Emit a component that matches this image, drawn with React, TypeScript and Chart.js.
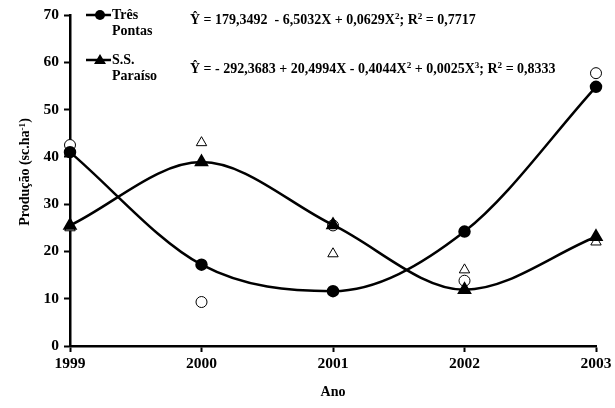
import React, { useEffect, useRef } from "react";
import { Chart, registerables } from "chart.js";

Chart.register(...registerables);

const years = ["1999", "2000", "2001", "2002", "2003"];
const tresPontasFit = [41.0, 17.2, 11.6, 24.2, 54.8];
const paraisoFit = [25.5, 38.9, 25.6, 11.9, 23.1];
const tresPontasObs = [42.5, 9.3, 25.5, 13.8, 57.7];
const paraisoObs = [25.0, 43.0, 19.5, 16.1, 22.0];
const yMin = 0;
const yMax = 70;
const yStep = 10;

const SERIF = "'Liberation Serif', 'Times New Roman', serif";

export default function App() {
  const canvasRef = useRef<HTMLCanvasElement | null>(null);

  useEffect(() => {
    const canvas = canvasRef.current;
    if (!canvas) return;
    const chart = new Chart(canvas, {
      type: "line",
      data: {
        labels: years,
        datasets: [
          {
            label: "Três Pontas",
            data: tresPontasFit,
            borderColor: "#000",
            backgroundColor: "#000",
            borderWidth: 2.5,
            pointStyle: "circle",
            pointRadius: 5,
            pointBackgroundColor: "#000",
            pointBorderColor: "#000",
            cubicInterpolationMode: "monotone",
            clip: false,
          },
          {
            label: "S.S. Paraíso",
            data: paraisoFit,
            borderColor: "#000",
            backgroundColor: "#000",
            borderWidth: 2.5,
            pointStyle: "triangle",
            pointRadius: 6,
            pointBackgroundColor: "#000",
            pointBorderColor: "#000",
            cubicInterpolationMode: "monotone",
            clip: false,
          },
          {
            label: "Três Pontas obs",
            data: tresPontasObs,
            showLine: false,
            pointStyle: "circle",
            pointRadius: 5.5,
            pointBorderWidth: 1,
            pointBackgroundColor: "#fff",
            pointBorderColor: "#000",
            clip: false,
          },
          {
            label: "S.S. Paraíso obs",
            data: paraisoObs,
            showLine: false,
            pointStyle: "triangle",
            pointRadius: 6,
            pointBorderWidth: 1,
            pointBackgroundColor: "#fff",
            pointBorderColor: "#000",
            clip: false,
          },
        ],
      },
      options: {
        responsive: false,
        animation: false,
        events: [],
        layout: { padding: { left: 0, right: 19, top: 15, bottom: 0 } },
        plugins: {
          legend: { display: false },
          tooltip: { enabled: false },
          title: { display: false },
        },
        scales: {
          x: {
            type: "category",
            offset: false,
            afterFit: (s: any) => {
              s.height = 62;
            },
            grid: {
              drawOnChartArea: false,
              drawTicks: true,
              tickLength: 6,
              tickWidth: 2,
              tickColor: "#000",
              color: "#000",
            },
            border: { display: true, color: "#000", width: 2.5 },
            ticks: {
              color: "#000",
              padding: 3,
              maxRotation: 0,
              font: { family: SERIF, size: 15.5, weight: "bold" },
            },
          },
          y: {
            min: yMin,
            max: yMax,
            afterFit: (s: any) => {
              s.width = 70;
            },
            grid: {
              drawOnChartArea: false,
              drawTicks: true,
              tickLength: 6,
              tickWidth: 2,
              tickColor: "#000",
              color: "#000",
            },
            border: { display: true, color: "#000", width: 2.5 },
            ticks: {
              stepSize: yStep,
              color: "#000",
              padding: 5,
              font: { family: SERIF, size: 15.5, weight: "bold" },
            },
          },
        },
      },
    });
    return () => chart.destroy();
  }, []);

  const txt: React.CSSProperties = {
    position: "absolute",
    fontFamily: SERIF,
    fontWeight: "bold",
    color: "#000",
    whiteSpace: "nowrap",
    lineHeight: 1,
  };
  const sup: React.CSSProperties = { fontSize: "0.65em", verticalAlign: "0.5em" };

  return (
    <div
      style={{
        position: "fixed",
        left: 0,
        top: 0,
        width: 615,
        height: 408,
        background: "#fff",
      }}
    >
      <canvas ref={canvasRef} width={615} height={408} style={{ position: "absolute", left: 0, top: 0 }} />

      {/* legend markers */}
      <svg width={615} height={408} style={{ position: "absolute", left: 0, top: 0, pointerEvents: "none" }}>
        <line x1={86} y1={15} x2={111} y2={15} stroke="#000" strokeWidth={2.5} />
        <circle cx={100} cy={15} r={5} fill="#000" />
        <line x1={86} y1={60} x2={111} y2={60} stroke="#000" strokeWidth={2.5} />
        <polygon points="100,54 106,64 94,64" fill="#000" />
      </svg>

      <div style={{ ...txt, left: 112, top: 8, fontSize: 14 }}>Três</div>
      <div style={{ ...txt, left: 112, top: 24, fontSize: 14 }}>Pontas</div>
      <div style={{ ...txt, left: 112, top: 53, fontSize: 14 }}>S.S.</div>
      <div style={{ ...txt, left: 112, top: 69, fontSize: 14 }}>Paraíso</div>

      <div style={{ ...txt, left: 190, top: 12, fontSize: 14 }}>
        Ŷ = 179,3492&nbsp; - 6,5032X + 0,0629X<span style={sup}>2</span>; R<span style={sup}>2</span> = 0,7717
      </div>
      <div style={{ ...txt, left: 190, top: 61, fontSize: 14 }}>
        Ŷ = - 292,3683 + 20,4994X - 0,4044X<span style={sup}>2</span> + 0,0025X<span style={sup}>3</span>; R
        <span style={sup}>2</span> = 0,8333
      </div>

      <div style={{ ...txt, left: 333, top: 392, fontSize: 14, transform: "translate(-50%, -50%)" }}>Ano</div>
      <div
        style={{
          ...txt,
          left: 25,
          top: 172,
          fontSize: 14,
          transform: "translate(-50%, -50%) rotate(-90deg)",
        }}
      >
        Produção (sc.ha<span style={sup}>-1</span>)
      </div>
    </div>
  );
}
